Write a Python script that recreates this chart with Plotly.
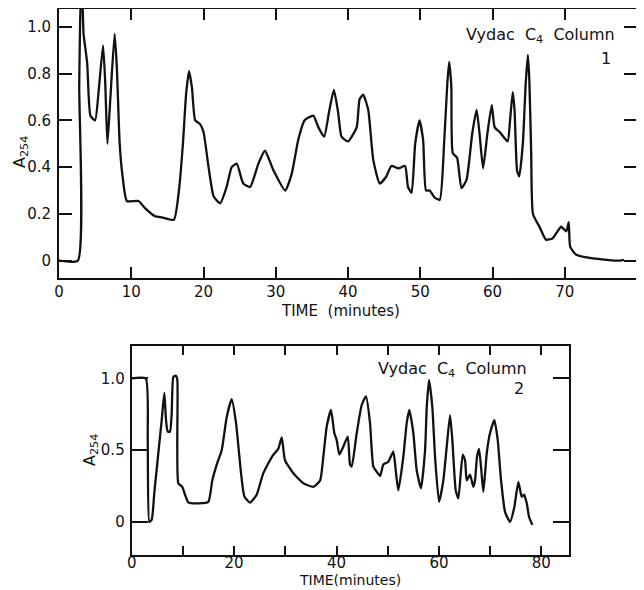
import plotly.graph_objects as go

# ---------------- data: Vydac C4 Column 1 ----------------
top_time = [0, 2.6, 2.8, 3.0, 3.2, 3.4, 3.9, 4.35, 5.0, 5.5, 6.1, 6.4, 6.7, 7.1, 7.7, 8.0,
            8.4, 8.8, 9.4, 11.0, 11.9, 13.3, 14.25, 15.9, 16.6, 17.15, 17.6, 18.0, 18.4,
            18.85, 19.5, 20.0, 20.7, 21.4, 22.3, 23.2, 23.9, 24.6, 25.5, 26.45, 27.6, 28.5,
            29.7, 31.3, 32.2, 33.1, 34.0, 35.2, 35.9, 36.7, 37.4, 38.05, 38.65, 39.1, 40.0,
            41.2, 41.6, 42.1, 42.8, 43.5, 44.4, 45.3, 46.0, 47.0, 47.9, 48.3, 48.8, 49.3,
            49.9, 50.4, 50.8, 51.3, 52.0, 52.7, 53.3, 53.75, 54.0, 54.3, 54.5, 55.1, 55.7,
            56.4, 57.2, 57.8, 58.2, 58.7, 59.3, 59.9, 60.3, 61.0, 62.1, 62.4, 62.8, 63.05,
            63.4, 63.7, 64.2, 64.6, 64.9, 65.1, 65.35, 65.6, 66.5, 67.4, 68.3, 69.5, 70.2,
            70.55, 70.75, 71.6, 73.9, 77.6, 78.2]
top_a254 = [0, 0, 0.75, 1.1, 1.15, 0.97, 0.845, 0.62, 0.60, 0.73, 0.92, 0.76, 0.50, 0.69,
            0.97, 0.83, 0.50, 0.36, 0.255, 0.255, 0.225, 0.19, 0.185, 0.175, 0.30, 0.50,
            0.715, 0.81, 0.74, 0.60, 0.585, 0.55, 0.40, 0.275, 0.245, 0.315, 0.40, 0.415,
            0.33, 0.315, 0.415, 0.47, 0.385, 0.30, 0.37, 0.515, 0.60, 0.62, 0.57, 0.53,
            0.64, 0.73, 0.63, 0.53, 0.51, 0.57, 0.69, 0.71, 0.645, 0.43, 0.33, 0.36, 0.405,
            0.395, 0.405, 0.315, 0.29, 0.50, 0.60, 0.515, 0.30, 0.30, 0.27, 0.26, 0.50,
            0.76, 0.85, 0.745, 0.46, 0.44, 0.31, 0.345, 0.545, 0.645, 0.545, 0.395, 0.545,
            0.665, 0.57, 0.55, 0.51, 0.59, 0.72, 0.645, 0.385, 0.36, 0.50, 0.76, 0.88, 0.77,
            0.47, 0.20, 0.145, 0.09, 0.095, 0.145, 0.125, 0.165, 0.06, 0.025, 0.01, 0.0, 0.003]

# ---------------- data: Vydac C4 Column 2 ----------------
bot_time = [0, 2.73, 3.13, 3.44, 3.91, 4.41, 5.20, 5.86, 6.37, 6.70, 7.03, 7.48, 7.81, 8.13,
            8.59, 8.91, 9.10, 9.88, 10.41, 11.05, 13.01, 14.96, 15.74, 16.60, 17.58, 18.55,
            19.53, 20.37, 21.35, 21.99, 23.11, 24.41, 25.70, 27.5, 28.63, 29.30, 29.94,
            31.56, 33.52, 35.47, 36.80, 37.42, 38.09, 38.93, 39.57, 40.04, 40.55, 41.33,
            42.19, 42.64, 42.97, 43.95, 44.92, 45.76, 46.54, 47.19, 47.85, 48.50, 49.14,
            50.12, 51.09, 51.62, 52.07, 53.05, 53.71, 54.22, 55.00, 55.66, 56.50, 57.29,
            57.62, 58.07, 58.71, 59.24, 60.02, 60.86, 61.52, 62.17, 62.62, 63.28, 63.79,
            64.26, 64.65, 65.10, 65.43, 66.07, 66.72, 67.05, 67.44, 67.83, 68.22, 68.67,
            69.34, 69.98, 70.82, 71.48, 72.13, 72.91, 73.89, 74.73, 75.51, 76.17, 76.62,
            77.15, 77.60, 78.24]
bot_a254 = [1.0, 1.0, 0.57, 0.0, 0.015, 0.2, 0.48, 0.71, 0.9, 0.71, 0.63, 0.63, 0.76, 1.01,
            1.02, 0.99, 0.27, 0.245, 0.19, 0.137, 0.13, 0.14, 0.29, 0.40, 0.50, 0.73, 0.855,
            0.69, 0.34, 0.18, 0.135, 0.19, 0.34, 0.46, 0.51, 0.59, 0.43, 0.34, 0.27, 0.245,
            0.29, 0.455, 0.665, 0.78, 0.62, 0.57, 0.47, 0.525, 0.595, 0.40, 0.385, 0.62,
            0.815, 0.875, 0.69, 0.385, 0.35, 0.32, 0.40, 0.42, 0.49, 0.34, 0.22, 0.455, 0.69,
            0.78, 0.62, 0.36, 0.235, 0.50, 0.80, 0.99, 0.80, 0.455, 0.14, 0.29, 0.525, 0.745,
            0.57, 0.22, 0.165, 0.34, 0.47, 0.43, 0.29, 0.33, 0.245, 0.29, 0.455, 0.51, 0.385,
            0.21, 0.48, 0.62, 0.71, 0.57, 0.29, 0.07, 0.0, 0.105, 0.28, 0.175, 0.19, 0.13,
            0.035, -0.02]

top_xticks = [0, 10, 20, 30, 40, 50, 60, 70, 80]
top_xtext = ["0", "10", "20", "30", "40", "50", "60", "70", "80"]
top_yticks = [0, 0.2, 0.4, 0.6, 0.8, 1.0]
top_ytext = ["0", "0.2", "0.4", "0.6", "0.8", "1.0"]
bot_xticks = [0, 10, 20, 30, 40, 50, 60, 70, 80]
bot_xtext = ["0", " ", "20", " ", "40", " ", "60", " ", "80"]
bot_yticks = [0, 0.5, 1.0]
bot_ytext = ["0", "0.5", "1.0"]

# the page body keeps an 8 px margin, so the figure is laid out 8 px in from the window edge
OFF = 8
W, H = 644 - OFF, 590 - OFF
FONT = "DejaVu Sans"
INK = "#111111"


def px(x):
    return (x - OFF) / W


def py(y):
    return 1 - (y - OFF) / H


fig = go.Figure()
fig.add_trace(go.Scatter(x=top_time, y=top_a254, mode="lines",
                         line=dict(color=INK, width=2.3, shape="spline", smoothing=0.5),
                         xaxis="x", yaxis="y", showlegend=False, hoverinfo="skip"))
fig.add_trace(go.Scatter(x=bot_time, y=bot_a254, mode="lines",
                         line=dict(color=INK, width=2.3, shape="spline", smoothing=0.5),
                         xaxis="x2", yaxis="y2", showlegend=False, hoverinfo="skip"))

common = dict(showline=True, linecolor=INK, linewidth=2, mirror="allticks",
              ticks="inside", tickcolor=INK, tickwidth=2, showgrid=False, automargin=False,
              zeroline=False, tickfont=dict(family=FONT, size=15, color=INK), fixedrange=True)

fig.update_layout(
    width=W, height=H,
    margin=dict(l=0, r=0, t=0, b=0, autoexpand=False),
    paper_bgcolor="white", plot_bgcolor="white",
    xaxis=dict(domain=[px(59), px(637)], range=[0, 80], anchor="y",
               tickmode="array", tickvals=top_xticks, ticktext=top_xtext, ticklen=11,
               ticklabelstandoff=-1, **common),
    yaxis=dict(domain=[py(278), py(9)], range=[-0.074, 1.076], anchor="x",
               tickmode="array", tickvals=top_yticks, ticktext=top_ytext, ticklen=13,
               ticklabelstandoff=3, **common),
    xaxis2=dict(domain=[px(131.7), px(569)], range=[0, 85.4], anchor="y2",
                tickmode="array", tickvals=bot_xticks, ticktext=bot_xtext, ticklen=9,
                ticklabelstandoff=-7, **common),
    yaxis2=dict(domain=[py(555), py(346)], range=[-0.23, 1.226], anchor="x2",
                tickmode="array", tickvals=bot_yticks, ticktext=bot_ytext, ticklen=16,
                ticklabelstandoff=2, **common),
)

ann_font = dict(family=FONT, size=16, color=INK)
annotations = [
    dict(text="A<sub>254</sub>", x=px(20), y=py(152), textangle=-90),
    dict(text="TIME  (minutes)", x=px(340), y=py(311), font_size=15),
    dict(text="Vydac  C<sub>4</sub>  Column", x=px(540), y=py(35)),
    dict(text="1", x=px(606), y=py(58)),
    dict(text="A<sub>254</sub>", x=px(90), y=py(450), textangle=-90),
    dict(text="TIME(minutes)", x=px(350), y=py(579.5), font_size=14),
    dict(text="Vydac  C<sub>4</sub>  Column", x=px(452), y=py(369)),
    dict(text="2", x=px(519), y=py(388)),
]
for a in annotations:
    fnt = dict(ann_font)
    if "font_size" in a:
        fnt["size"] = a.pop("font_size")
    fig.add_annotation(xref="paper", yref="paper", showarrow=False,
                       xanchor="center", yanchor="middle", font=fnt, **a)

fig.write_html("out.html")
